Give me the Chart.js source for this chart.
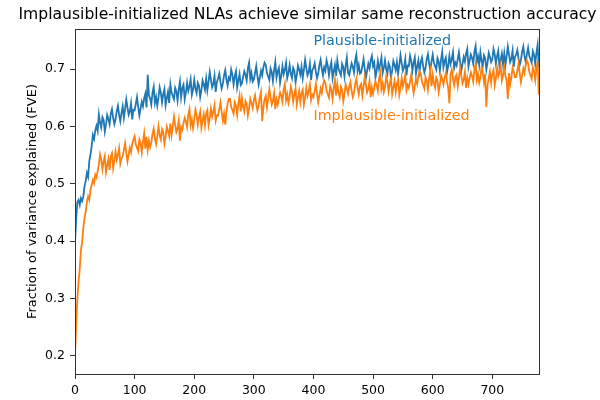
<!DOCTYPE html>
<html>
<head>
<meta charset="utf-8">
<script src="https://cdn.jsdelivr.net/npm/chart.js@4/dist/chart.umd.min.js"></script>
<style>
  html, body { margin: 0; padding: 0; background: #fff; }
  #wrap { width: 600px; height: 400px; }
</style>
</head>
<body>
<div id="wrap"><canvas id="grafico" width="600" height="400"></canvas></div>
<script>
// ================= DATA =================
const titulo = "Implausible-initialized NLAs achieve similar same reconstruction accuracy";
const etiquetaY = "Fraction of variance explained (FVE)";
const nombrePlausible = "Plausible-initialized";
const nombreImplausible = "Implausible-initialized";

// one value every 2 steps, starting at step 0
const paso = 2;
const ticksX = [0, 100, 200, 300, 400, 500, 600, 700];
const ticksY = [0.2, 0.3, 0.4, 0.5, 0.6, 0.7];

const plausible = [
  .398,.440,.468,.472,.463,.475,.470,.478,.496,.505,
  .519,.512,.540,.551,.566,.585,.578,.593,.601,.592,
  .621,.606,.598,.616,.611,.591,.603,.620,.613,.604,
  .622,.630,.615,.604,.612,.627,.636,.620,.609,.623,
  .635,.615,.630,.647,.633,.620,.626,.640,.612,.629,
  .628,.639,.651,.634,.619,.631,.643,.635,.649,.657,
  .633,.690,.654,.648,.638,.659,.669,.641,.651,.636,
  .650,.668,.659,.642,.656,.665,.637,.649,.660,.641,
  .673,.659,.653,.647,.667,.661,.645,.664,.678,.651,
  .667,.673,.647,.659,.676,.662,.670,.682,.655,.664,
  .681,.666,.658,.676,.671,.651,.663,.680,.673,.664,
  .683,.663,.678,.695,.681,.668,.674,.688,.660,.677,
  .684,.692,.677,.666,.674,.689,.698,.682,.671,.685,
  .681,.699,.690,.673,.687,.696,.668,.680,.691,.672,
  .675,.686,.696,.690,.680,.701,.711,.683,.693,.678,
  .682,.693,.705,.688,.673,.685,.697,.689,.703,.711,
  .707,.693,.687,.681,.701,.695,.679,.698,.712,.685,
  .696,.702,.676,.688,.705,.691,.699,.711,.684,.693,
  .707,.692,.684,.702,.697,.677,.689,.706,.699,.690,
  .704,.684,.699,.716,.702,.689,.695,.709,.681,.698,
  .702,.710,.695,.684,.692,.707,.716,.700,.689,.703,
  .697,.715,.706,.689,.703,.712,.684,.696,.707,.688,
  .715,.701,.695,.689,.709,.703,.687,.706,.720,.693,
  .689,.700,.710,.704,.694,.715,.725,.697,.707,.692,
  .694,.705,.717,.700,.685,.697,.709,.701,.715,.723,
  .705,.711,.685,.697,.714,.700,.708,.720,.693,.702,
  .715,.700,.692,.710,.705,.685,.697,.714,.707,.698,
  .712,.692,.707,.724,.710,.697,.703,.717,.689,.706,
  .705,.723,.714,.697,.711,.720,.692,.704,.715,.696,
  .712,.720,.705,.694,.702,.717,.726,.710,.699,.713,
  .725,.711,.705,.699,.719,.713,.697,.716,.730,.703,
  .714,.720,.694,.706,.723,.709,.717,.729,.702,.711,
  .706,.717,.729,.712,.697,.709,.721,.713,.727,.735,
  .704,.715,.725,.719,.709,.730,.740,.712,.722,.707,
  .729,.714,.706,.724,.719,.699,.711,.728,.721,.712,
  .717,.735,.726,.709,.723,.732,.704,.716,.727,.708,
  .727,.707,.722,.739,.725,.712,.718,.732,.704,.721,
  .725,.733,.718,.707,.715,.730,.739,.723,.712,.726,
  .737,.723,.717,.711,.731,.725,.709,.728,.742,.703
];

const implausible = [
  .200,.255,.300,.330,.352,.385,.398,.424,.440,.452,
  .468,.478,.472,.490,.498,.507,.501,.516,.511,.522,
  .533,.551,.542,.525,.539,.548,.520,.532,.543,.524,
  .547,.553,.527,.539,.556,.542,.550,.562,.535,.544,
  .548,.559,.571,.554,.539,.551,.563,.555,.569,.577,
  .583,.569,.563,.557,.577,.571,.555,.574,.588,.561,
  .582,.559,.575,.564,.572,.587,.596,.580,.569,.583,
  .600,.585,.577,.595,.590,.570,.582,.599,.592,.583,
  .605,.585,.600,.617,.603,.590,.596,.610,.575,.599,
  .594,.605,.615,.609,.599,.620,.630,.602,.612,.597,
  .611,.629,.620,.603,.617,.626,.598,.610,.621,.602,
  .622,.628,.602,.614,.631,.617,.625,.637,.610,.619,
  .619,.630,.642,.625,.610,.622,.603,.626,.640,.648,
  .648,.634,.628,.622,.642,.636,.620,.639,.653,.626,
  .649,.634,.626,.644,.639,.619,.631,.648,.641,.632,
  .646,.654,.639,.628,.636,.651,.660,.609,.633,.647,
  .653,.633,.648,.665,.651,.638,.644,.658,.630,.647,
  .638,.649,.659,.653,.643,.664,.674,.646,.656,.641,
  .651,.669,.660,.643,.657,.666,.638,.650,.661,.642,
  .658,.664,.638,.650,.667,.653,.661,.673,.646,.655,
  .651,.662,.674,.657,.642,.654,.666,.658,.672,.680,
  .676,.662,.656,.650,.670,.664,.648,.667,.681,.654,
  .674,.659,.651,.669,.664,.644,.656,.673,.666,.657,
  .669,.677,.662,.651,.659,.674,.683,.667,.656,.670,
  .674,.654,.669,.686,.672,.659,.665,.679,.651,.668,
  .657,.668,.678,.672,.662,.683,.693,.665,.675,.660,
  .669,.687,.678,.661,.675,.684,.656,.668,.679,.660,
  .675,.681,.655,.667,.684,.670,.678,.690,.663,.672,
  .667,.678,.690,.673,.658,.670,.682,.674,.688,.696,
  .692,.678,.672,.666,.686,.680,.664,.683,.697,.670,
  .690,.675,.667,.685,.680,.660,.672,.689,.682,.673,
  .685,.693,.678,.667,.640,.690,.699,.683,.672,.686,
  .690,.670,.685,.702,.688,.675,.681,.695,.667,.684,
  .673,.684,.694,.688,.678,.699,.709,.681,.691,.676,
  .685,.703,.694,.677,.691,.634,.672,.684,.695,.676,
  .692,.698,.672,.684,.701,.687,.695,.707,.680,.689,
  .703,.688,.680,.648,.693,.673,.685,.702,.695,.686,
  .686,.697,.709,.692,.677,.689,.701,.693,.707,.715,
  .709,.695,.689,.683,.703,.697,.681,.700,.714,.655
];

// ================= ESTILO =================
const AZUL = "#1f77b4";
const NARANJA = "#ff7f0e";
const FUENTE = "DejaVu Sans";
const EJE = "#333333";

function aPuntos(valores) {
  return valores.map((v, i) => ({ x: i * paso, y: v }));
}

// title, spines and the two in-plot labels
const extras = {
  id: "extras",
  afterDraw(chart) {
    const { ctx, chartArea: a, scales } = chart;
    ctx.save();

    ctx.strokeStyle = EJE;
    ctx.lineWidth = 1;
    ctx.strokeRect(a.left + 0.5, a.top + 0.5, a.right - a.left - 1, a.bottom - a.top);

    ctx.fillStyle = "#000";
    ctx.font = `15.6px "${FUENTE}"`;
    ctx.textAlign = "center";
    ctx.textBaseline = "middle";
    ctx.fillText(titulo, (a.left + a.right) / 2, 15);

    ctx.font = `14.3px "${FUENTE}"`;
    ctx.textAlign = "left";
    ctx.fillStyle = AZUL;
    ctx.fillText(nombrePlausible, scales.x.getPixelForValue(400), scales.y.getPixelForValue(0.749));
    ctx.fillStyle = NARANJA;
    ctx.fillText(nombreImplausible, scales.x.getPixelForValue(400), scales.y.getPixelForValue(0.618));

    ctx.restore();
  }
};

// ================= GRAFICO =================
new Chart(document.getElementById("grafico"), {
  type: "line",
  data: {
    datasets: [
      {
        label: nombrePlausible,
        data: aPuntos(plausible),
        borderColor: AZUL,
        borderWidth: 1.8,
        pointRadius: 0,
        tension: 0,
        order: 1
      },
      {
        label: nombreImplausible,
        data: aPuntos(implausible),
        borderColor: NARANJA,
        borderWidth: 1.8,
        pointRadius: 0,
        tension: 0,
        order: 0
      }
    ]
  },
  options: {
    responsive: false,
    animation: false,
    layout: { padding: { top: 29, right: 60, left: 0, bottom: 0 } },
    plugins: {
      legend: { display: false },
      tooltip: { enabled: false },
      title: { display: false }
    },
    scales: {
      x: {
        type: "linear",
        min: 0,
        max: 780,
        afterBuildTicks: ax => { ax.ticks = ticksX.map(v => ({ value: v })); },
        afterFit: ax => { ax.height = 26; },
        grid: { drawOnChartArea: false, drawTicks: true, tickLength: 5, color: EJE },
        border: { display: false },
        ticks: {
          padding: 4,
          color: "#000",
          font: { family: FUENTE, size: 12.5 },
          maxRotation: 0,
          callback: v => String(v)
        }
      },
      y: {
        min: 0.1686,
        max: 0.7697,
        afterBuildTicks: ax => { ax.ticks = ticksY.map(v => ({ value: v })); },
        afterFit: ax => { ax.width = 75; },
        grid: { drawOnChartArea: false, drawTicks: true, tickLength: 5, color: EJE },
        border: { display: false },
        ticks: {
          padding: 5,
          color: "#000",
          font: { family: FUENTE, size: 12.5 },
          callback: v => v.toFixed(1)
        },
        title: {
          display: true,
          text: etiquetaY,
          color: "#000",
          font: { family: FUENTE, size: 13 },
          padding: { top: 25, bottom: 0 }
        }
      }
    }
  },
  plugins: [extras]
});
</script>
</body>
</html>
